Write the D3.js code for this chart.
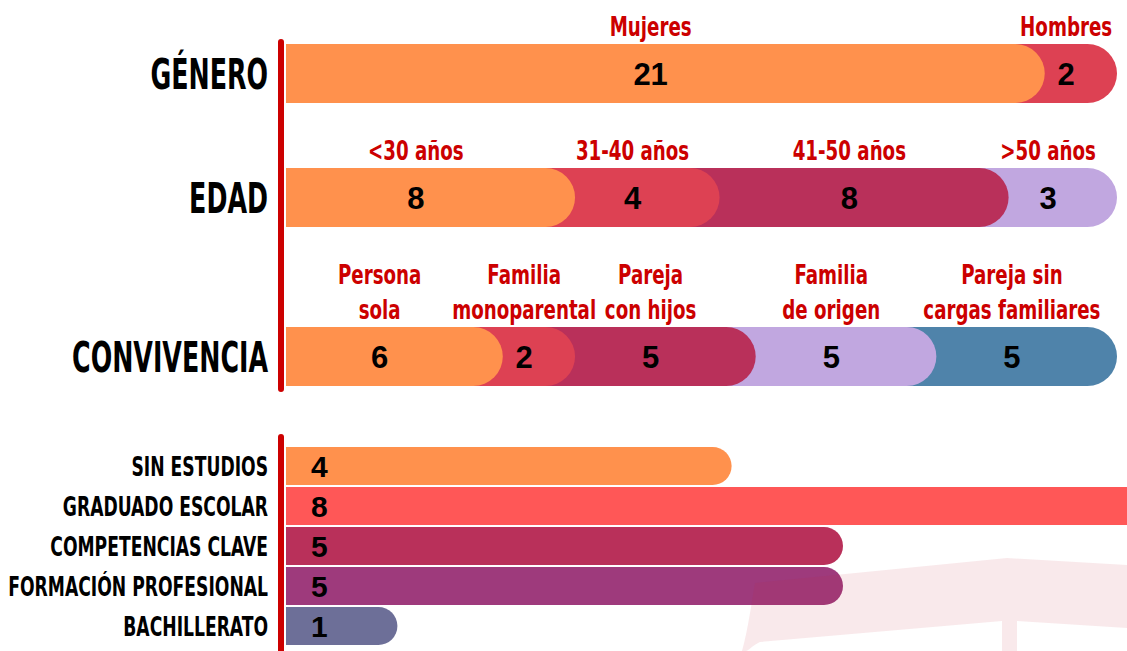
<!DOCTYPE html>
<html>
<head>
<meta charset="utf-8">
<script src="https://cdn.jsdelivr.net/npm/d3@7"></script>
<style>
  html, body { margin: 0; padding: 0; background: #fff; }
  svg { display: block; }
</style>
</head>
<body>
<div id="chart"></div>
<script>
var generoCats = ["Mujeres", "Hombres"];
var generoVals = [21, 2];

var edadCats = ["<30 años", "31-40 años", "41-50 años", ">50 años"];
var edadVals = [8, 4, 8, 3];

var convCats = [["Persona", "sola"], ["Familia", "monoparental"], ["Pareja", "con hijos"], ["Familia", "de origen"], ["Pareja sin", "cargas familiares"]];
var convVals = [6, 2, 5, 5, 5];

var estudiosCats = ["SIN ESTUDIOS", "GRADUADO ESCOLAR", "COMPETENCIAS CLAVE", "FORMACIÓN PROFESIONAL", "BACHILLERATO"];
var estudiosVals = [4, 8, 5, 5, 1];

var rowTitles = ["GÉNERO", "EDAD", "CONVIVENCIA"];

// ---- styling ----
var W = 1127, H = 651;
var condensed = "'DejaVu Sans Condensed', 'DejaVu Sans', sans-serif";
var numFont = "'Liberation Sans', Arial, sans-serif";
var darkRed = "#cc0000";

var colGenero = ["#ff914d", "#dd4153"];
var colEdad = ["#ff914d", "#dd4153", "#b9305a", "#c1a7e0"];
var colConv = ["#ff914d", "#dd4153", "#b9305a", "#c1a7e0", "#4f83aa"];
var colEstudios = ["#ff914d", "#ff5757", "#b9305a", "#9e3a7c", "#6d6f98"];

var svg = d3.select("#chart").append("svg")
    .attr("width", W)
    .attr("height", H);

// condensed text helper: squeeze horizontally to mimic a narrow display face
function label(g, x, y, txt, size, sx, anchor, fill) {
  return g.append("text")
    .attr("transform", "translate(" + x + "," + y + ") scale(" + sx + ",1)")
    .attr("text-anchor", anchor)
    .style("font-family", condensed)
    .style("font-weight", "bold")
    .style("font-size", size + "px")
    .style("fill", fill)
    .text(txt);
}

// rounded-right-end bar shape
function pill(x0, x1, y, h) {
  var r = h / 2;
  var xs = Math.max(x0, x1 - r);
  return "M" + x0 + "," + y + "H" + xs +
    "A" + r + "," + r + " 0 0 1 " + xs + "," + (y + h) +
    "H" + x0 + "Z";
}

// ---- stacked rows (top) ----
var barX0 = 286, barX1 = 1117, barH = 59;

var rows = [
  {title: rowTitles[0], cats: generoCats.map(function(c){ return [c]; }), vals: generoVals, cols: colGenero, y: 44},
  {title: rowTitles[1], cats: edadCats.map(function(c){ return [c]; }), vals: edadVals, cols: colEdad, y: 168},
  {title: rowTitles[2], cats: convCats, vals: convVals, cols: colConv, y: 327}
];

var topG = svg.append("g");

rows.forEach(function(row) {
  var total = d3.sum(row.vals);
  var x = d3.scaleLinear().domain([0, total]).range([barX0, barX1]);
  var r = barH / 2;

  var segs = [], acc = 0;
  row.vals.forEach(function(v, i) {
    segs.push({i: i, v: v, s: acc, e: acc + v, cat: row.cats[i], col: row.cols[i]});
    acc += v;
  });

  var g = topG.append("g");

  // draw last segment first so every cap sits over its neighbour
  g.selectAll("path.seg")
    .data(segs.slice().reverse())
    .enter().append("path")
    .attr("class", "seg")
    .attr("d", function(d) {
      var a = d.i === 0 ? x(d.s) : x(d.s) - r;
      return pill(a, x(d.e), row.y, barH);
    })
    .style("fill", function(d) { return d.col; });

  segs.forEach(function(d) {
    var cx = (x(d.s) + x(d.e) - r) / 2;
    g.append("text")
      .attr("x", cx)
      .attr("y", row.y + barH / 2 + 11)
      .attr("text-anchor", "middle")
      .style("font-family", numFont)
      .style("font-weight", "bold")
      .style("font-size", "31px")
      .style("fill", "#000")
      .text(d.v);

    var lines = d.cat;
    lines.forEach(function(t, k) {
      var by = row.y - 8 - (lines.length - 1 - k) * 35;
      label(g, cx, by, t, 26, 0.78, "middle", darkRed);
    });
  });

  label(g, 268, row.y + barH / 2 + 15, row.title, 42, 0.67, "end", "#000");
});

// ---- education bars (bottom) ----
var eduTop = 447, eduStep = 40, eduH = 38;
var xe = d3.scaleLinear().domain([0, 5]).range([barX0, 843]);

var bottomG = svg.append("g");

bottomG.selectAll("path.edu")
  .data(estudiosVals)
  .enter().append("path")
  .attr("class", "edu")
  .attr("d", function(v, i) { return pill(xe(0), xe(v), eduTop + i * eduStep, eduH); })
  .style("fill", function(v, i) { return colEstudios[i]; });

bottomG.selectAll("text.eduNum")
  .data(estudiosVals)
  .enter().append("text")
  .attr("class", "eduNum")
  .attr("x", 311)
  .attr("y", function(v, i) { return eduTop + i * eduStep + eduH / 2 + 11; })
  .style("font-family", numFont)
  .style("font-weight", "bold")
  .style("font-size", "30px")
  .style("fill", "#000")
  .text(function(v) { return v; });

estudiosCats.forEach(function(c, i) {
  label(bottomG, 268, eduTop + i * eduStep + eduH / 2 + 10, c, 26, 0.735, "end", "#000");
});

// ---- red axis strokes ----
svg.append("line")
  .attr("x1", 281).attr("x2", 281).attr("y1", 42).attr("y2", 389)
  .style("stroke", darkRed).style("stroke-width", 6).style("stroke-linecap", "round");
svg.append("line")
  .attr("x1", 281).attr("x2", 281).attr("y1", 437).attr("y2", 660)
  .style("stroke", darkRed).style("stroke-width", 6).style("stroke-linecap", "round");

// faint graduation-cap watermark, bottom right
svg.append("path")
  .attr("d", "M755,583 L1007,558 L1127,565 L1127,628 L1017,621 L1017,651 L1002,651 L1002,621 L760,642 C752,646 748,651 746,651 L742,651 C748,630 752,600 755,583 Z")
  .style("fill", "#c8243f")
  .style("opacity", 0.1);
</script>
</body>
</html>
